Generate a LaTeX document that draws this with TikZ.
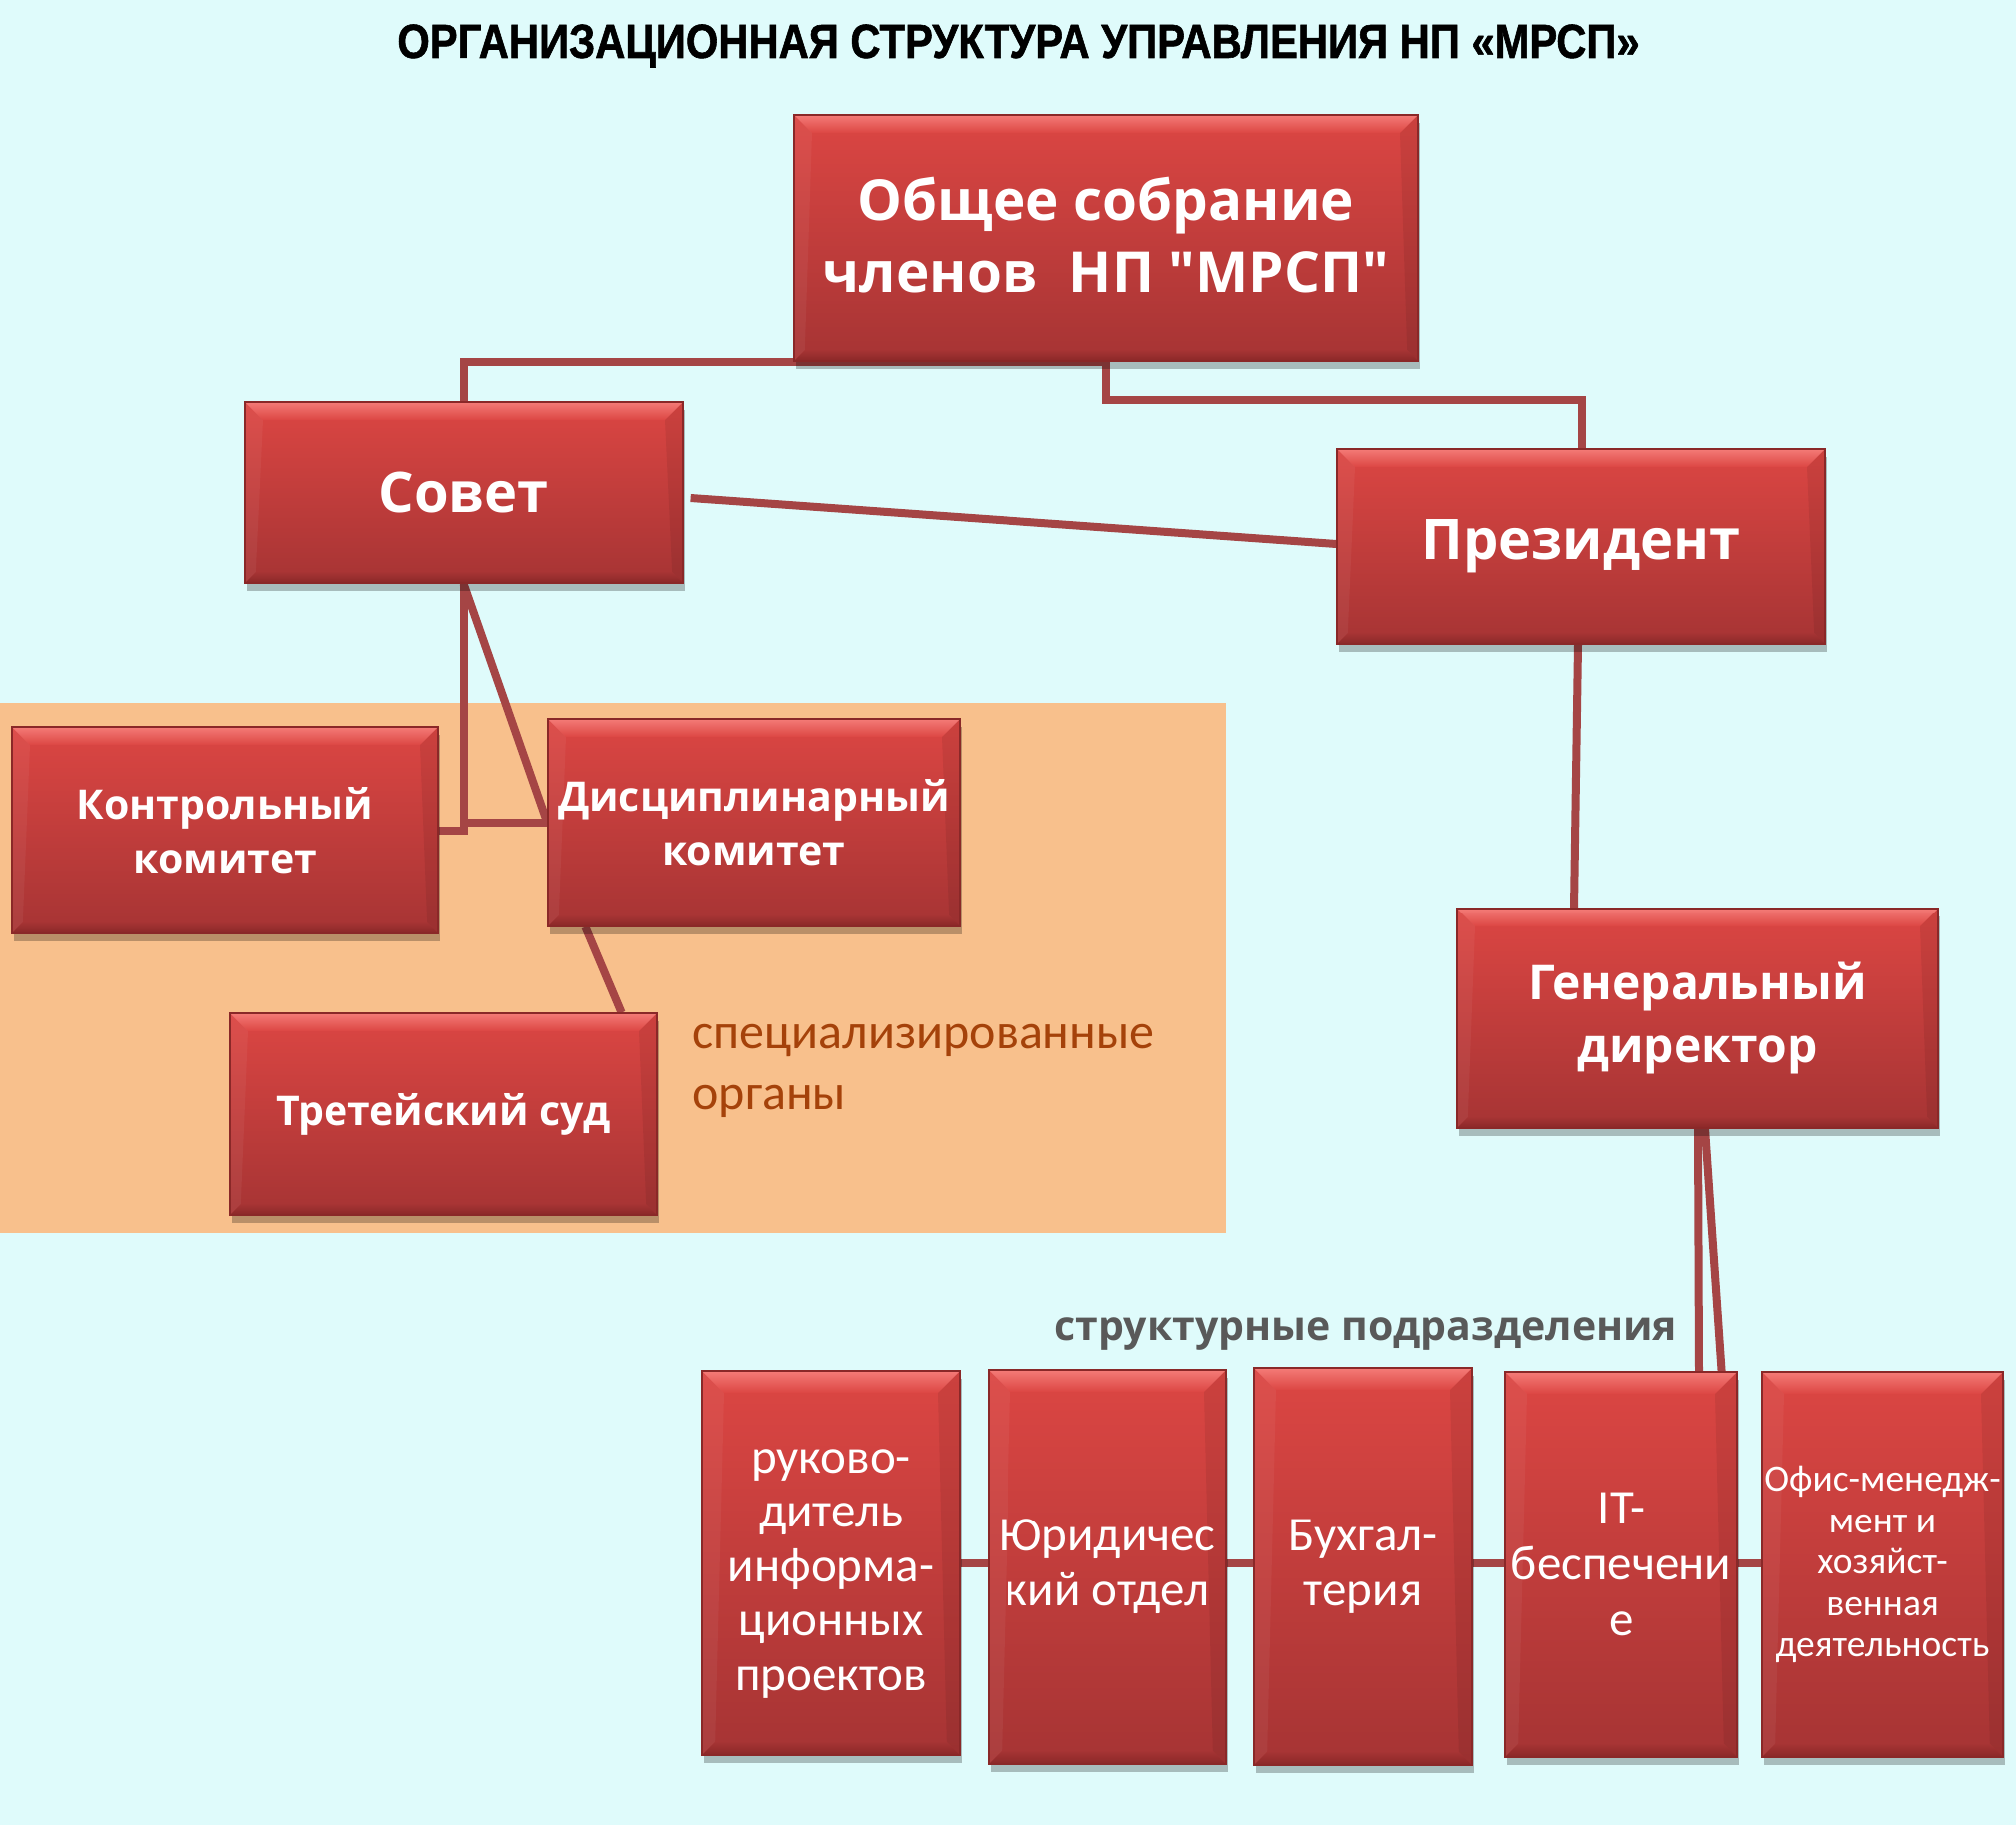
\documentclass[tikz,border=0pt]{standalone}
\usepackage{fontspec}
\setmainfont{Open Sans}[Ligatures=TeXOff]
\newfontfamily\carl{Carlito}
\newfontfamily\titlefont{Liberation Sans}[FakeStretch=0.87, FakeBold=1.2]
\usetikzlibrary{shadows,calc}
\definecolor{bgc}{HTML}{DFFBFB}
\definecolor{orng}{HTML}{F8C08C}
\definecolor{boxtop}{HTML}{DC4643}
\definecolor{boxbot}{HTML}{A63434}
\definecolor{bevlt}{HTML}{F47B77}
\definecolor{bevdk}{HTML}{8A2828}
\definecolor{linec}{HTML}{A54545}
\definecolor{brn}{HTML}{A5420A}
\definecolor{gry}{HTML}{595959}
\pgfdeclarelayer{back}
\pgfdeclarelayer{lines}
\pgfsetlayers{back,lines,main}
\tikzset{
  bev/.store in=\bevsz, bev=18pt,
  box/.style={inner sep=0pt, draw=bevdk, line width=1.2pt,
    top color=boxtop, bottom color=boxbot, text=white, align=center,
    drop shadow={opacity=0.25, shadow xshift=2pt, shadow yshift=-8pt, fill=black},
    path picture={
      \path (path picture bounding box.north west) coordinate (pnw)
            (path picture bounding box.north east) coordinate (pne)
            (path picture bounding box.south west) coordinate (psw)
            (path picture bounding box.south east) coordinate (pse);
      \shade[top color=bevlt, bottom color=boxtop] (pnw) -- (pne)
        -- ([xshift=-\bevsz,yshift=-\bevsz]pne) -- ([xshift=\bevsz,yshift=-\bevsz]pnw) -- cycle;
      \fill[white, opacity=0.05] (pnw) -- ([xshift=\bevsz,yshift=-\bevsz]pnw)
        -- ([xshift=0.6*\bevsz,yshift=0.6*\bevsz]psw) -- (psw) -- cycle;
      \fill[black, opacity=0.07] (pne) -- ([xshift=-\bevsz,yshift=-\bevsz]pne)
        -- ([xshift=-0.6*\bevsz,yshift=0.6*\bevsz]pse) -- (pse) -- cycle;
      \shade[top color=boxbot, bottom color=bevdk] (psw) -- ([xshift=0.6*\bevsz,yshift=0.6*\bevsz]psw)
        -- ([xshift=-0.6*\bevsz,yshift=0.6*\bevsz]pse) -- (pse) -- cycle;
    }},
  conn/.style={draw=linec, line width=8pt},
}
\begin{document}
\begin{tikzpicture}[x=1pt,y=-1pt]
\useasboundingbox (0,0) rectangle (2019,1828);
\begin{pgfonlayer}{back}
\fill[bgc] (0,0) rectangle (2019,1828);
\fill[orng] (0,704) rectangle (1228,1235);
\end{pgfonlayer}

\node[font=\titlefont\bfseries\fontsize{48}{56}\selectfont] (title) at (1020,46)
  {ОРГАНИЗАЦИОННАЯ СТРУКТУРА УПРАВЛЕНИЯ НП «МРСП»};

\node[box, minimum width=625pt, minimum height=247pt,
  font=\bfseries\fontsize{56.5}{72}\selectfont] (obsh) at (1107.5,238.5)
  {Общее собрание\\членов\hspace{0.3em} НП "МРСП"\rule[-8pt]{0pt}{0pt}};
\node[box, minimum width=439pt, minimum height=181pt,
  font=\bfseries\fontsize{56}{66}\selectfont] (sovet) at (464.5,493.5) {Совет};
\node[box, minimum width=489pt, minimum height=195pt,
  font=\bfseries\fontsize{56}{66}\selectfont] (pres) at (1583.5,547.5) {Президент};
\node[box, minimum width=427pt, minimum height=207pt,
  font=\bfseries\fontsize{41}{54}\selectfont] (kontr) at (225.5,831.5) {Контрольный\\комитет};
\node[box, minimum width=412pt, minimum height=208pt,
  font=\bfseries\fontsize{41}{54}\selectfont] (disc) at (755,824) {Дисциплинарный\\комитет};
\node[box, minimum width=428pt, minimum height=202pt,
  font=\bfseries\fontsize{41}{54}\selectfont] (tret) at (444,1116) {Третейский суд};
\node[box, minimum width=482pt, minimum height=220pt,
  font=\bfseries\fontsize{48}{63}\selectfont] (gen) at (1700,1020) {Генеральный\\директор};

\node[anchor=west, align=left, text=brn, font=\carl\fontsize{50}{61}\selectfont]
  (spec) at (690,1073) {специализированные\\органы};
\node[anchor=west, text=gry, font=\bfseries\fontsize{41}{48}\selectfont]
  (struct) at (1053,1336) {структурные подразделения};

\node[box, bev=22pt, minimum width=258pt, minimum height=385pt,
  font=\carl\fontsize{49}{54.5}\selectfont] (b1) at (832,1565.5)
  {\rule{0pt}{45pt}руково-\\дитель\\информа-\\ционных\\проектов};
\node[box, bev=22pt, minimum width=238pt, minimum height=395pt,
  font=\carl\fontsize{49}{55}\selectfont] (b2) at (1109,1569.5)
  {Юридичес\\кий отдел};
\node[box, bev=22pt, minimum width=218pt, minimum height=398pt,
  font=\carl\fontsize{49}{55}\selectfont] (b3) at (1365,1569)
  {Бухгал-\\терия};
\node[box, bev=22pt, minimum width=233pt, minimum height=386pt,
  font=\carl\fontsize{49}{56}\selectfont] (b4) at (1623.5,1567)
  {IT-\\беспечени\\е};
\node[box, bev=22pt, minimum width=241pt, minimum height=386pt,
  font=\carl\fontsize{37.5}{41.5}\selectfont] (b5) at (1885.5,1567)
  {Офис-менедж-\\мент и\\хозяйст-\\венная\\деятельность};

\begin{pgfonlayer}{lines}
\draw[conn] (sovet.north) |- (obsh.south) -- ++(0,38) -| (pres.north);
\draw[conn] ([xshift=7pt,yshift=-5.5pt]sovet.east) -- ([yshift=2.5pt]pres.west);
\draw[conn] (sovet.south) |- (disc.west);
\draw[conn] (kontr.east) -| (sovet.south);
\draw[conn] (sovet.south) -- (disc.west);
\draw[conn] ([xshift=38pt]disc.south west) -- ([xshift=-36pt]tret.north east);
\draw[conn] ([xshift=-3.5pt]pres.south) -- ([xshift=-124pt]gen.north);
\draw[conn] ([xshift=1pt]gen.south) -- ([xshift=78.5pt]b4.north);
\draw[conn] ([xshift=8pt]gen.south) -- ([xshift=-16pt]b4.north east);
\draw[conn] (b1.east) -- (b5.west |- b1.east);
\end{pgfonlayer}
\end{tikzpicture}
\end{document}
